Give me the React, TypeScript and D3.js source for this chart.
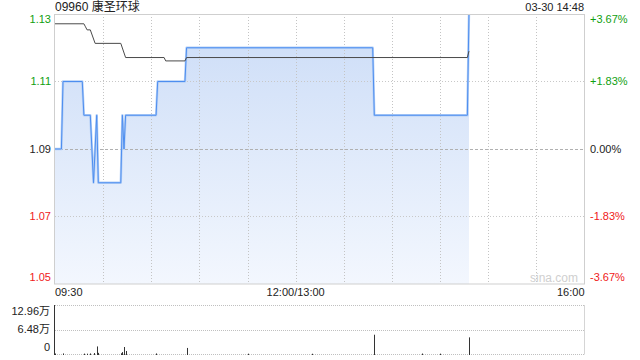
import React from "react";
import * as d3 from "d3";

// ---- data ----
const title = "09960 康圣环球";
const stamp = "03-30 14:48";
const basePrice = 1.09;
const priceTicks = [1.13, 1.11, 1.09, 1.07, 1.05];
const pctTicks = ["+3.67%", "+1.83%", "0.00%", "-1.83%", "-3.67%"];
const timeLabels = ["09:30", "12:00/13:00", "16:00"];
const timeLabelMinutes = [0, 150, 330];
const gridMinutes = [30, 60, 90, 120, 150, 180, 210, 240, 270, 300];

// minute index since 09:30 (lunch removed) and price
const priceTimes = [0, 4, 5, 17, 18, 22, 24, 26, 27, 41, 42, 43, 44, 63, 64, 81, 82, 198, 199, 257, 258];
const prices = [1.09, 1.09, 1.11, 1.11, 1.1, 1.1, 1.08, 1.1, 1.08, 1.08, 1.1, 1.09, 1.1, 1.1, 1.11, 1.11, 1.12, 1.12, 1.1, 1.1, 1.13];

const avgTimes = [0, 18, 19, 20, 22, 25, 41, 44, 68, 69, 81, 82, 257, 258];
const avgPrices = [1.1271, 1.1271, 1.1262, 1.1253, 1.1253, 1.1213, 1.1213, 1.1171, 1.1171, 1.1161, 1.1161, 1.1171, 1.1171, 1.119];

const volTimes = [0, 5, 18, 20, 22, 24, 26, 27, 41, 42, 43, 44, 63, 82, 120, 160, 199, 229, 240, 258];
const volumes = [1200, 1500, 1000, 800, 1500, 2500, 20000, 3000, 2000, 5000, 18500, 8000, 1500, 16000, 800, 700, 51000, 1200, 900, 44000];
const volTicks = [129600, 64800, 0];
const volTickLabels = ["12.96万", "6.48万", "0"];

const FONT = "'Liberation Sans', Arial, 'Noto Sans CJK SC', sans-serif";

export default function App() {
  const X0 = 55, X1 = 584.5;
  const x = d3.scaleLinear().domain([0, 330]).range([X0, X1]);
  const y = d3.scaleLinear().domain([1.05, 1.13]).range([284, 14]);
  const yv = d3.scaleLinear().domain([0, 129600]).range([354, 305]);

  const pts: [number, number][] = priceTimes.map((t, i) => [t, prices[i]]);
  const avgPts: [number, number][] = avgTimes.map((t, i) => [t, avgPrices[i]]);

  const line = d3.line<[number, number]>().x((d) => x(d[0])).y((d) => y(d[1]));
  const area = d3
    .area<[number, number]>()
    .x((d) => x(d[0]))
    .y0(284)
    .y1((d) => y(d[1]));

  const colorFor = (v: number) => (v > basePrice + 1e-9 ? "#10a010" : v < basePrice - 1e-9 ? "#f02020" : "#222");
  const labelY = (i: number, v: number) => (i === 0 ? y(v) + 5 : i === priceTicks.length - 1 ? y(v) - 6.5 : y(v));

  return (
    <svg width={640} height={360} style={{ position: "absolute", left: 0, top: 0, background: "#fff" }} fontFamily={FONT}>
      <defs>
        <linearGradient id="fillGrad" gradientUnits="userSpaceOnUse" x1={0} y1={14} x2={0} y2={284}>
          <stop offset="0%" stopColor="#cbdcf7" />
          <stop offset="100%" stopColor="#f3f7fe" />
        </linearGradient>
      </defs>

      {/* header */}
      <text x={55} y={11} fontSize={12} fill="#222">{title}</text>
      <text x={584} y={11} fontSize={11} fill="#222" textAnchor="end">{stamp}</text>

      {/* price area */}
      <path d={area(pts) || ""} fill="url(#fillGrad)" />

      {/* grid */}
      {gridMinutes.map((m) => (
        <line key={"gv" + m} x1={Math.round(x(m)) + 0.5} x2={Math.round(x(m)) + 0.5} y1={14} y2={284} stroke="#c4c4c4" strokeDasharray="1,2" />
      ))}
      {[1.11, 1.09, 1.07].map((v) => (
        <line key={"gh" + v} x1={X0} x2={X1} y1={Math.round(y(v)) + 0.5} y2={Math.round(y(v)) + 0.5}
          stroke={v === basePrice ? "#b0b0b0" : "#c8c8c8"} strokeDasharray={v === basePrice ? "3,2" : "1,2"} />
      ))}

      <path d={line(pts) || ""} fill="none" stroke="#b4cff6" strokeWidth={2.4} strokeLinejoin="round" />
      <path d={line(pts) || ""} fill="none" stroke="#4d8ef0" strokeWidth={1} />
      <path d={line(avgPts) || ""} fill="none" stroke="#4a4a4a" strokeWidth={1} />

      {/* frame */}
      <rect x={54.5} y={14.5} width={530} height={269.5} fill="none" stroke="#cfcfcf" />

      {/* watermark */}
      <text x={578} y={282} fontSize={12} fill="#cfcfcf" textAnchor="end">sina.com</text>

      {/* left price labels */}
      {priceTicks.map((v, i) => (
        <text key={"pl" + v} x={51} y={labelY(i, v)} dy="0.35em" fontSize={11} fill={colorFor(v)} textAnchor="end">
          {v.toFixed(2)}
        </text>
      ))}
      {/* right pct labels */}
      {priceTicks.map((v, i) => (
        <text key={"pr" + v} x={590} y={labelY(i, v)} dy="0.35em" fontSize={11} fill={colorFor(v)}>
          {pctTicks[i]}
        </text>
      ))}

      {/* time labels */}
      {timeLabels.map((s, i) => (
        <text key={s} x={i === 0 ? X0 : i === 2 ? X1 : x(timeLabelMinutes[i])} y={296} fontSize={11} fill="#222"
          textAnchor={i === 0 ? "start" : i === 2 ? "end" : "middle"}>
          {s}
        </text>
      ))}

      {/* volume panel */}
      {volTicks.map((v) => (
        <line key={"vg" + v} x1={X0} x2={X1} y1={Math.round(yv(v)) + 0.5} y2={Math.round(yv(v)) + 0.5} stroke="#c0c0c0" strokeDasharray="1,1" />
      ))}
      <line x1={X1} x2={X1} y1={305} y2={354.5} stroke="#d5d5d5" />
      {volTimes.map((t, i) => (
        <line key={"vb" + t} x1={Math.round(x(t)) + 0.5} x2={Math.round(x(t)) + 0.5} y1={yv(0) + 1} y2={yv(volumes[i])} stroke="#333" strokeWidth={1} />
      ))}
      <line x1={54.5} x2={54.5} y1={305} y2={355} stroke="#333" />
      {volTicks.map((v, i) => (
        <text key={"vl" + v} x={50} y={i === 0 ? 311 : i === 1 ? 329.5 : 347.5} dy="0.35em" fontSize={11} fill="#222" textAnchor="end">
          {volTickLabels[i]}
        </text>
      ))}
    </svg>
  );
}
